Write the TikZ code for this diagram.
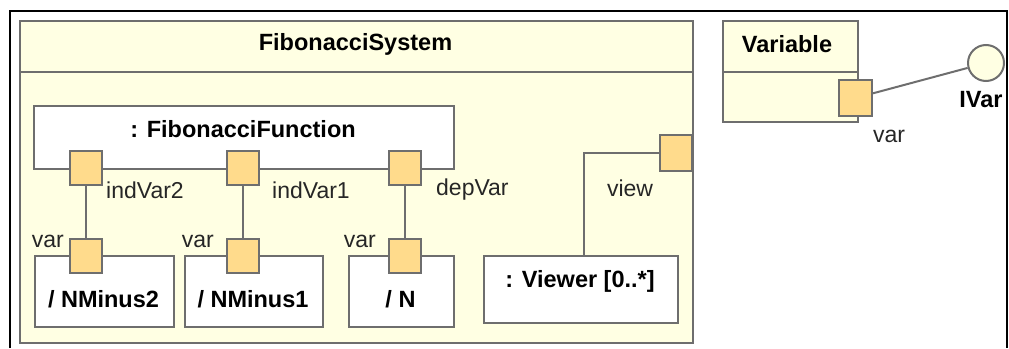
\documentclass[tikz,border=0pt]{standalone}
\usepackage{fontspec}
\setmainfont{Liberation Sans}
\definecolor{edge}{HTML}{6E6E6E}
\definecolor{pale}{HTML}{FFFFE3}
\definecolor{portfill}{HTML}{FFDB8C}
\begin{document}
\begin{tikzpicture}[x=1pt,y=-1pt,
  frame/.style={draw=black,line width=2.5pt},
  box/.style={draw=edge,line width=2pt,fill=white,inner sep=0pt,anchor=north west},
  port/.style={draw=edge,line width=2pt,fill=portfill,inner sep=0pt,
    minimum width=32pt,minimum height=34pt},
  wire/.style={draw=edge,line width=2pt},
  bold/.style={font=\fontsize{23.5}{28}\selectfont\bfseries,inner sep=0pt},
  lbl/.style={font=\fontsize{23}{27}\selectfont,inner sep=0pt,text=black!85}
]
\useasboundingbox (0,0) rectangle (1009,348);

% enclosing frame (open at the bottom)
\draw[frame] (10,348) -- (10,11) -- (1007,11) -- (1007,348);

% FibonacciSystem class
\node[box,fill=pale,minimum width=673pt,minimum height=322pt] (sys) at (19,20) {};
\draw[wire] (sys.north west) ++(0,52) -- ++(673,0);
\node[bold] (systitle) at (355.5,44) {FibonacciSystem};

% inner part: FibonacciFunction
\node[box,minimum width=420pt,minimum height=63pt] (fun) at (33,105) {};
\node[bold] (funtitle) at (243,129) {: FibonacciFunction};

% variable parts
\node[box,minimum width=139pt,minimum height=71pt] (nm2) at (34,255) {};
\node[box,minimum width=138pt,minimum height=71pt] (nm1) at (184,255) {};
\node[box,minimum width=105pt,minimum height=71pt] (nn) at (348,255) {};
\node[bold] (nm2t) at (103.5,299) {/ NMinus2};
\node[bold] (nm1t) at (253,299) {/ NMinus1};
\node[bold] (nnt) at (400.5,299) {/ N};

% viewer part
\node[box,minimum width=194pt,minimum height=67pt] (viewer) at (483,255) {};
\node[bold] (viewert) at (580,281) {: Viewer [0..*]};

% ports of FibonacciFunction
\node[port] (fp2) at (86,168) {};
\node[port] (fp1) at (242.5,168) {};
\node[port] (fp0) at (405,168) {};
\node[lbl,anchor=west] (l1) at (106,190) {indVar2};
\node[lbl,anchor=west] (l2) at (272,190) {indVar1};
\node[lbl,anchor=west] (l3) at (436,190) {depVar};

% ports of the variable parts
\node[port] (np2) at (86,255.5) {};
\node[port] (np1) at (242.5,255.5) {};
\node[port] (np0) at (405,255.5) {};
\node[lbl,anchor=east] (v2) at (64,241) {var};
\node[lbl,anchor=east] (v1) at (214,241) {var};
\node[lbl,anchor=east] (v0) at (376,241) {var};

% boundary port of FibonacciSystem
\node[port,minimum height=36pt] (vp) at (676,153) {};
\node[lbl] (vl) at (630,188) {view};

% connectors
\draw[wire] (fp2) -- (np2);
\draw[wire] (fp1) -- (np1);
\draw[wire] (fp0) -- (np0);
\draw[wire] (vp.west) -| ([xshift=3pt]viewer.north);

% Variable class with its port and provided interface
\node[box,fill=pale,minimum width=135pt,minimum height=101pt] (var) at (722,20) {};
\draw[wire] (var.north west) ++(0,52) -- ++(135,0);
\node[bold] (vart) at (787,44) {Variable};
\node[port,minimum width=33pt,minimum height=36pt] (varp) at (855.5,98) {};
\node[lbl] (varl) at (889,136) {var};
\node[circle,draw=edge,line width=2pt,fill=pale,minimum size=36pt,inner sep=0pt] (ivar) at (986,63) {};
\node[bold] (ivart) at (981,100) {IVar};
\draw[wire] (varp) -- (ivar);
\end{tikzpicture}
\end{document}
